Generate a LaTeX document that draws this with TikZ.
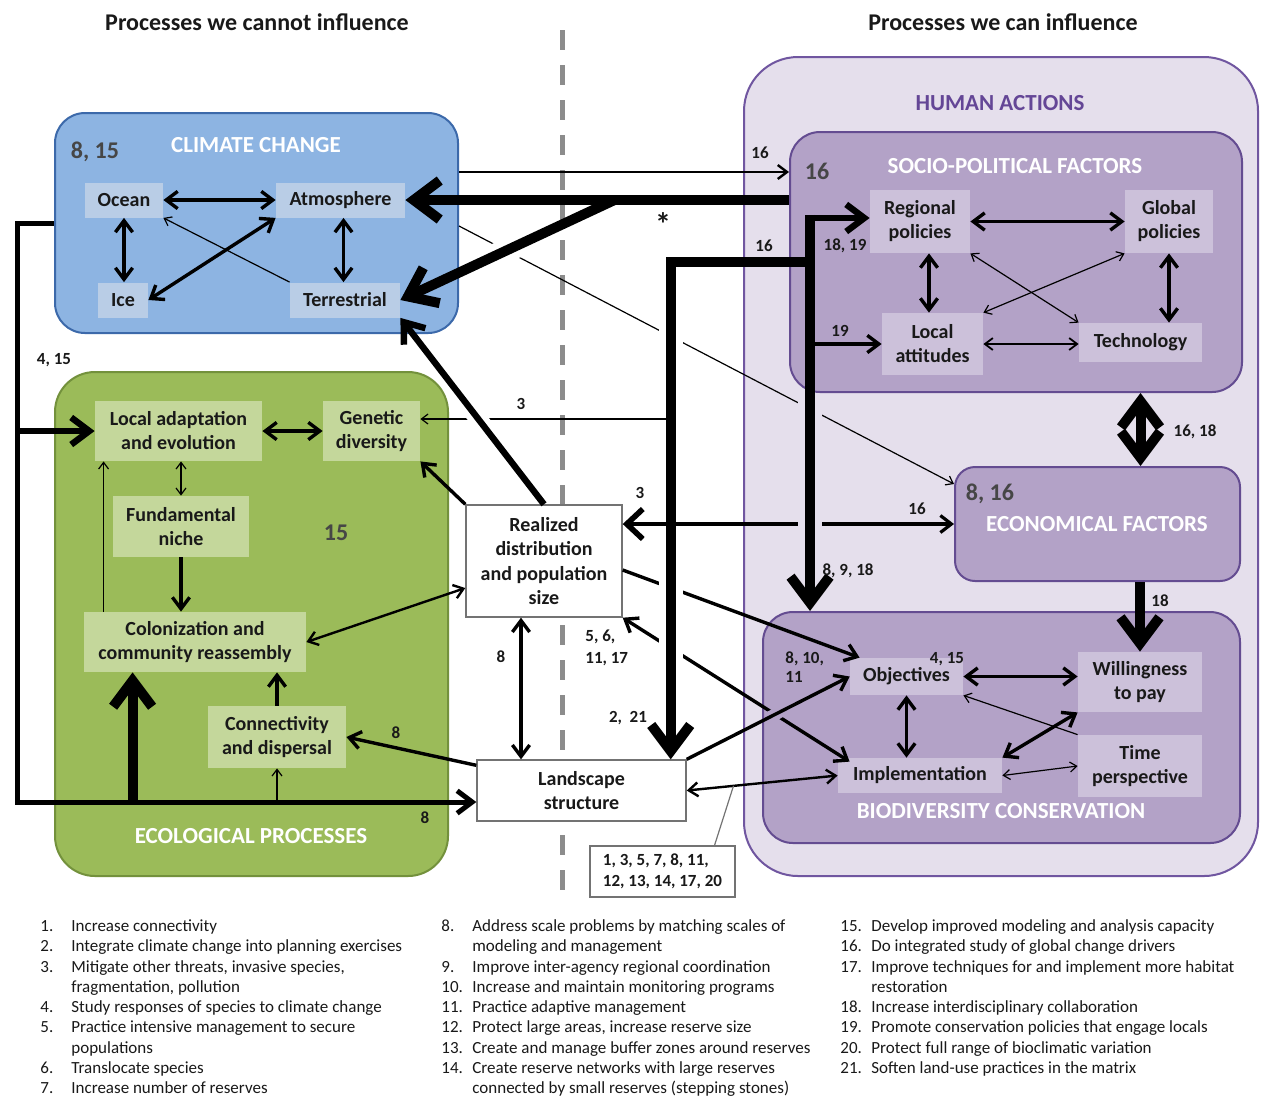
\documentclass[tikz,border=0pt]{standalone}
\usepackage{fontspec}
\setmainfont{Carlito}
\usetikzlibrary{arrows.meta,calc}
\definecolor{ccfill}{RGB}{141,180,226}
\definecolor{ccedge}{RGB}{60,105,170}
\definecolor{ccsub}{RGB}{185,205,230}
\definecolor{epfill}{RGB}{155,187,89}
\definecolor{epedge}{RGB}{115,145,60}
\definecolor{epsub}{RGB}{196,215,155}
\definecolor{hafill}{RGB}{229,223,236}
\definecolor{haedge}{RGB}{112,86,160}
\definecolor{spfill}{RGB}{179,162,199}
\definecolor{spedge}{RGB}{100,76,145}
\definecolor{spsub}{RGB}{204,193,218}
\definecolor{hatext}{RGB}{100,70,150}
\definecolor{numgray}{RGB}{70,70,70}
\definecolor{dashgray}{RGB}{140,140,140}
\definecolor{txt}{RGB}{25,25,25}
\newcommand{\legfont}{\fontsize{8.5}{10.13}\selectfont}
\begin{document}
\begin{tikzpicture}[x=0.5pt,y=-0.5pt,
  >={Straight Barb[length=2pt 2.2,width=3pt 3.3]},
  thn/.style={line width=0.6pt},
  thnm/.style={line width=0.9pt},
  med/.style={line width=1.2pt},
  thk/.style={line width=1.7pt},
  vthk/.style={line width=3.2pt},
  huge/.style={line width=5pt},
  frame/.style={line width=2.5pt},
  sz/.style 2 args={minimum width=#1,minimum height=#2},
  box/.style 2 args={draw=#2,fill=#1,line width=1pt,inner sep=0pt},
  sub/.style={fill=#1,inner sep=0pt,align=center,text=txt,font=\bfseries\fontsize{10}{12}\selectfont},
  wbox/.style={draw=black!55,fill=white,line width=0.7pt,inner sep=0pt,align=center,text=txt,font=\bfseries\fontsize{10}{12.3}\selectfont},
  ttl/.style={text=white,inner sep=0pt,font=\bfseries\fontsize{11.5}{13}\selectfont},
  num/.style={text=numgray,inner sep=0pt,font=\bfseries\fontsize{12}{14}\selectfont},
  lab/.style={text=txt,inner sep=0pt,font=\bfseries\fontsize{8.5}{10.5}\selectfont},
  hd/.style={text=txt,inner sep=0pt,font=\bfseries\fontsize{12}{15}\selectfont},
  leg/.style={text=txt,inner sep=0pt,font=\legfont},
]
\fill[white] (0,0) rectangle (1261,1099);
\useasboundingbox (0,0) rectangle (1261,1099);

\draw[dashgray,line width=2.5pt,dash pattern=on 10pt off 7.5pt] (562,30) -- (562,893);

% containers
\node[box={ccfill}{ccedge},rounded corners=15pt,sz={201.5pt}{110pt}] (cc) at (256.5,223) {};
\node[box={epfill}{epedge},rounded corners=20pt,sz={196.5pt}{252pt}] (ep) at (251.5,624) {};
\node[box={hafill}{haedge},rounded corners=27pt,sz={257pt}{409.5pt}] (ha) at (1001,466.5) {};
\node[box={spfill}{spedge},rounded corners=15pt,sz={226pt}{130pt}] (sp) at (1016,262) {};
\node[box={spfill}{spedge},rounded corners=10pt,sz={142.5pt}{57pt}] (ec) at (1097.5,524) {};
\node[box={spfill}{spedge},rounded corners=15pt,sz={238.5pt}{115.5pt}] (bc) at (1001.5,727.5) {};

% sub nodes
\node[sub=ccsub,sz={39pt}{17.5pt}] (oc) at (124,200) {Ocean};
\node[sub=ccsub,sz={64.5pt}{17.5pt}] (at) at (340.5,200) {Atmosphere};
\node[sub=ccsub,sz={25pt}{17.5pt}] (ice) at (123,300) {Ice};
\node[sub=ccsub,sz={55pt}{17.5pt}] (ter) at (345,300) {Terrestrial};
\node[sub=epsub,sz={83.5pt}{30pt}] (lae) at (178.5,431) {Local adaptation\\and evolution};
\node[sub=epsub,sz={48.5pt}{30pt}] (gd) at (371.5,431) {Genetic\\diversity};
\node[sub=epsub,sz={68pt}{30.5pt}] (fn) at (181,526.5) {Fundamental\\niche};
\node[sub=epsub,sz={111pt}{30pt}] (col) at (195,642) {Colonization and\\community reassembly};
\node[sub=epsub,sz={69pt}{31pt}] (cd) at (277,737) {Connectivity\\and dispersal};
\node[wbox,sz={78pt}{56pt}] (rd) at (544,561) {Realized\\distribution\\and population\\size};
\node[wbox,sz={104.5pt}{30.5pt}] (ls) at (581.5,790.5) {Landscape\\structure};
\node[sub=spsub,sz={50pt}{31.5pt}] (rp) at (920,221.5) {Regional\\policies};
\node[sub=spsub,sz={44pt}{31.5pt}] (gp) at (1169,221.5) {Global\\policies};
\node[sub=spsub,sz={50.5pt}{31pt}] (la) at (932.5,344) {Local\\attitudes};
\node[sub=spsub,sz={61.5pt}{19.5pt}] (te) at (1140.5,342.5) {Technology};
\node[sub=spsub,sz={56.5pt}{18.5pt}] (ob) at (906.5,676.5) {Objectives};
\node[sub=spsub,sz={62pt}{30pt}] (wp) at (1140,682) {Willingness\\to pay};
\node[sub=spsub,sz={82pt}{17.5pt}] (im) at (920,775.5) {Implementation};
\node[sub=spsub,sz={62pt}{31pt}] (tp) at (1140,766) {Time\\perspective};

% lines that pass under others
\draw[thn,->] ([yshift=-1.5pt]cc.east) -- ([yshift=-9pt]ec.north west);
\draw[thk,->] ([yshift=-4.5pt]rd.east) -- ([xshift=5pt]ob.north west);
\draw[thk,<->] (rd.south east) -- ([xshift=6pt,yshift=-2pt]im.north west);
\draw[line width=6pt,spfill] ($(ls.north east)!0.5!(ob.west)$) -- ($(ls.north east)!0.58!(ob.west)$);
\draw[thk,->] (ls.north east) -- (ob.west);
\draw[med,<->] (ls.east) -- (im.west);

% thick vertical to landscape
\coordinate (jt) at (810,218);
\coordinate (jn) at (810,262);
\coordinate (vx) at ($(ls.north east)+(-16,0)$);
\draw[white,line width=12pt] ($(vx |- jn)+(0,16)$) -- ($(vx)+(0,-14)$);
\draw[huge,->] (jn) -| (vx);

% "3" line to genetic diversity
\coordinate (g3) at ([yshift=6pt]gd.east);
\draw[thn,->] (g3 -| vx) -- (g3);

% realized -> terrestrial
\draw[white,line width=9pt] ($(rd.north)!0.40!(ter.south east)$) -- ($(rd.north)!0.52!(ter.south east)$);
\draw[vthk,->] (rd.north) -- (ter.south east);

% socio -> atmosphere and branch to terrestrial
\coordinate (sa) at (sp.west |- at.east);
\coordinate (br) at ($(at.east)!0.545!(sa)$);
\draw[white,line width=12pt] ($(br)!0.44!(ter.east)$) -- ($(br)!0.58!(ter.east)$);
\draw[huge,->] (sa) -- (at.east);
\draw[huge,->] (br) -- (ter.east);

% climate -> socio
\coordinate (c16) at ([yshift=25.5pt]cc.east);
\draw[med,->] (c16) -- (c16 -| sp.west);

% economical <-> realized
\draw[line width=1.6pt,{Straight Barb[length=8pt,width=15pt,line width=2.8pt]}-{Straight Barb[length=5.5pt,width=8.5pt]}] (rd.east |- ec.west) -- (ec.west);

% thick vertical to biodiversity
\draw[hafill,line width=12pt] ($(jt |- sp.south)+(0,8)$) -- ($(jt |- bc.north)+(0,-8)$);
\draw[huge,->] ($(jt)+(0,-3.2)$) -- (jt |- bc.north);
\draw[vthk,->] ($(jt)+(-3,0)$) -- (jt -| rp.west);
\draw[thk,->] (jt |- la.west) -- (la.west);

% climate internal
\draw[thk,<->] (oc) -- (at);
\draw[thk,<->] (oc.south) -- (oc.south |- ice.north);
\draw[thk,<->] (ice.east) -- (at.south west);
\coordinate (av) at ([xshift=1.5pt]at.south);
\draw[thk,<->] (av) -- (av |- ter.north);
\draw[thn,->] (ter.north west) -- (oc.south east);

% ecological internal
\draw[thk,<->] (lae) -- (gd);
\draw[thn,<->] (fn.north |- lae.south) -- (fn.north);
\draw[thk,->] (fn.south) -- (fn.south |- col.north);
\coordinate (cu) at ($(col.north west)+(20,0)$);
\draw[thn,->] (cu) -- (cu |- lae.south);
\draw[thk,->] (cd.north) -- (cd.north |- col.south);
\draw[thk,->] ([yshift=-3pt]ls.north west) -- (cd.east);
\draw[med,<->] ($(rd.west)+(0,27)$) -- (col.east);
\draw[thk,->] (rd.north west) -- (gd.south east);
\coordinate (rs) at ([xshift=-11.5pt]rd.south);
\draw[thk,<->] (rs) -- (rs |- ls.north);

% left frame
\coordinate (lc) at (17,802);
\draw[frame,->] (cc.west) -| (lc) -- (lc -| ls.west);
\draw[vthk,->] (lc |- lae.west) -- (lae.west);
\coordinate (cb) at ($(col.south west)+(49,0)$);
\draw[huge,->] (cb |- lc) -- (cb);
\draw[thn,->] (cd.south |- lc) -- (cd.south);

% socio internal
\draw[thk,<->] (rp) -- (gp);
\coordinate (rv) at ([xshift=4.5pt]rp.south);
\draw[thk,<->] (rv) -- (rv |- la.north);
\draw[thk,<->] (gp.south) -- (gp.south |- te.north);
\draw[thn,<->] (rp.south east) -- (te.north west);
\draw[thn,<->] (gp.south west) -- (la.north east);
\draw[thnm,<->] (la.east) -- (la.east -| te.west);

% socio <-> econ, econ -> willingness
\draw[huge,<->] (te |- sp.south) -- (te |- ec.north);
\draw[huge,->] (wp |- ec.south) -- (wp.north);

% biodiversity internal
\draw[thk,<->] (ob.east) -- (ob.east -| wp.west);
\draw[thk,<->] (ob.south) -- (ob.south |- im.north);
\draw[thk,<->] (im.north east) -- (wp.south west);
\draw[thn,->] (tp.north west) -- (ob.south east);
\draw[thn,<->] (im.east) -- (tp.west);

% label box
\node[draw=black!55,fill=white,line width=0.6pt,inner sep=0pt,align=left,text=txt,font=\bfseries\fontsize{8.5}{10.5}\selectfont,sz={72.5pt}{25.5pt}] (lb) at (662.5,871.5) {1, 3, 5, 7, 8, 11,\\12, 13, 14, 17, 20};
\draw[black!55,line width=0.6pt] ([xshift=26pt]lb.north) -- ($(ls.east)!0.31!(im.west)$);

% titles
\node[ttl] (cct) at (256,145) {CLIMATE CHANGE};
\node[ttl] (ept) at (251,836) {ECOLOGICAL PROCESSES};
\node[ttl,text=hatext] (hat) at (1000,103) {HUMAN ACTIONS};
\node[ttl] (spt) at (1015,166) {SOCIO-POLITICAL FACTORS};
\node[ttl] (ect) at (1097,524) {ECONOMICAL FACTORS};
\node[ttl] (bct) at (1001,811) {BIODIVERSITY CONSERVATION};
\node[num] (n1) at (95,152) {8, 15};
\node[num] (n2) at (336,533) {15};
\node[num] (n3) at (817,171) {16};
\node[num] (n4) at (990,494) {8, 16};

% edge labels
\node[lab] (t16a) at (760,153) {16};
\node[lab,font=\bfseries\fontsize{16}{16}\selectfont] (ast) at (663,224) {*};
\node[lab] (t16b) at (764,246) {16};
\node[lab] (t1819) at (845,246) {18, 19};
\node[lab] (t19) at (840,331) {19};
\node[lab] (t3a) at (521,404) {3};
\node[lab] (t3b) at (640,493) {3};
\node[lab] (t16c) at (917,509) {16};
\node[lab] (t8918) at (848,571) {8, 9, 18};
\node[lab] (t1618) at (1195,432) {16, 18};
\node[lab] (t18) at (1160,601) {18};
\node[lab,align=left,anchor=west,font=\bfseries\fontsize{8.5}{9.5}\selectfont] (t81011) at (785,667) {8, 10,\\11};
\node[lab] (t415b) at (947,659) {4, 15};
\node[lab] (t415a) at (54,360) {4, 15};
\node[lab] (t8a) at (396,733) {8};
\node[lab] (t8b) at (501,657) {8};
\node[lab,align=left,anchor=west,font=\bfseries\fontsize{8.5}{11}\selectfont] (t56) at (585,648) {5, 6,\\11, 17};
\node[lab] (t221) at (628,718) {2,~~21};
\node[lab] (t8c) at (425,818) {8};

% headers
\node[hd] (h1) at (257,22) {Processes we cannot influence};
\node[hd] (h2) at (1003,22) {Processes we can influence};

% legend
\node[leg,anchor=north west] (lg1) at (40,917) {\begin{tabular}{@{}p{15.5pt}@{}l@{}}
1. & Increase connectivity\\
2. & Integrate climate change into planning exercises\\
3. & Mitigate other threats, invasive species,\\
   & fragmentation, pollution\\
4. & Study responses of species to climate change\\
5. & Practice intensive management to secure\\
   & populations\\
6. & Translocate species\\
7. & Increase number of reserves
\end{tabular}};
\node[leg,anchor=north west] (lg2) at (441,917) {\begin{tabular}{@{}p{15.5pt}@{}l@{}}
8. & Address scale problems by matching scales of\\
   & modeling and management\\
9. & Improve inter-agency regional coordination\\
10. & Increase and maintain monitoring programs\\
11. & Practice adaptive management\\
12. & Protect large areas, increase reserve size\\
13. & Create and manage buffer zones around reserves\\
14. & Create reserve networks with large reserves\\
    & connected by small reserves (stepping stones)
\end{tabular}};
\node[leg,anchor=north west] (lg3) at (840,917) {\begin{tabular}{@{}p{15.5pt}@{}l@{}}
15. & Develop improved modeling and analysis capacity\\
16. & Do integrated study of global change drivers\\
17. & Improve techniques for and implement more habitat\\
    & restoration\\
18. & Increase interdisciplinary collaboration\\
19. & Promote conservation policies that engage locals\\
20. & Protect full range of bioclimatic variation\\
21. & Soften land-use practices in the matrix
\end{tabular}};
\end{tikzpicture}
\end{document}
